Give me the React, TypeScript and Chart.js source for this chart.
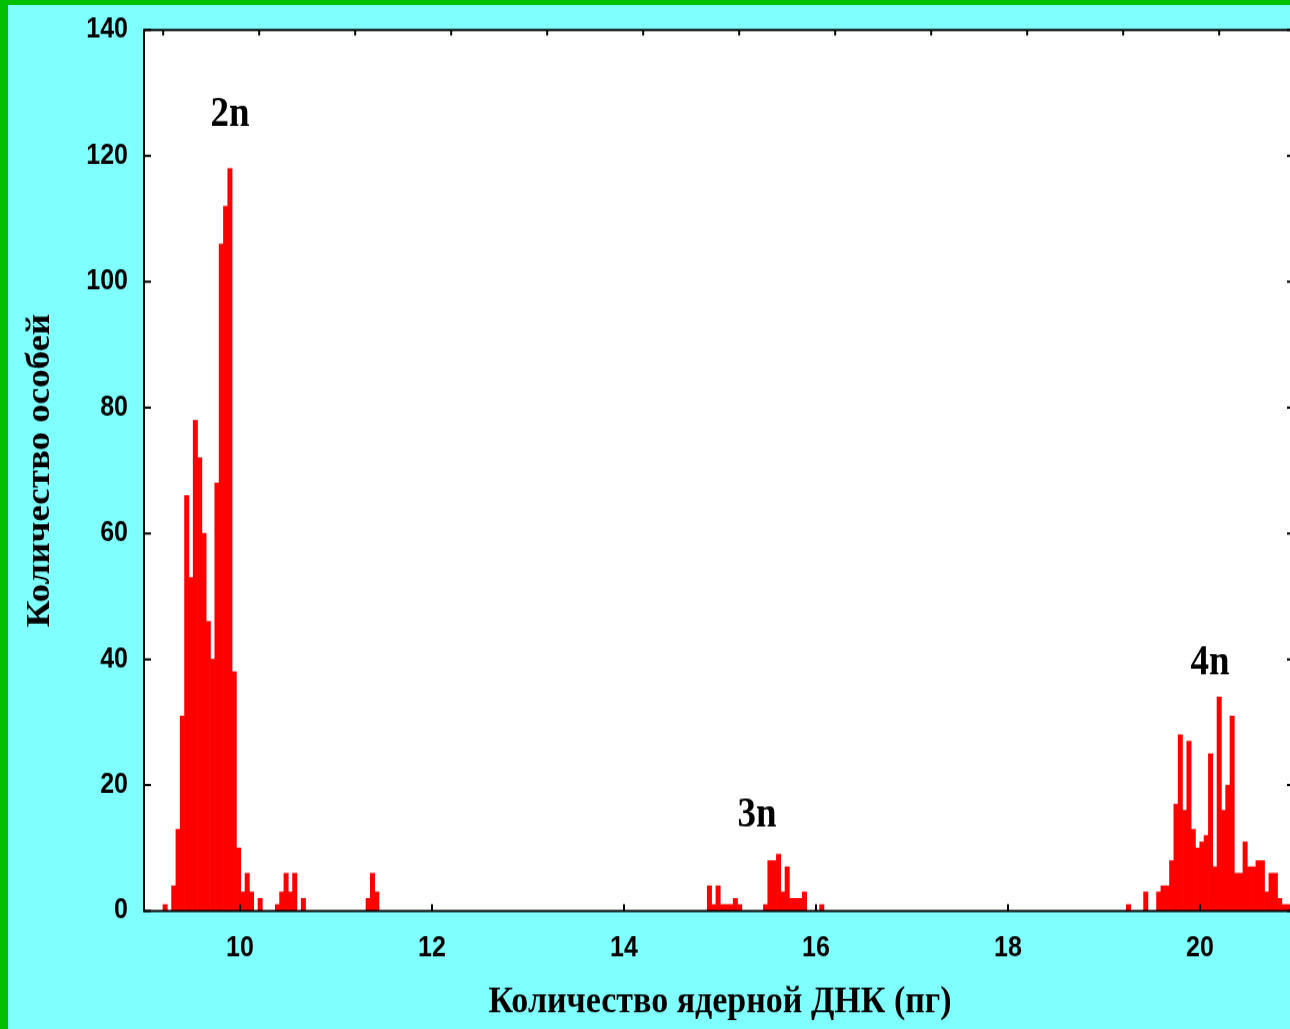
import React, { useEffect, useRef } from 'react';
import { Chart, registerables } from 'chart.js';

Chart.register(...registerables);

// ---- data (histogram of nuclear DNA content) ----
const BIN_START = 9.04; // centre of first bin (pg)
const BIN_WIDTH = 0.045; // pg
const BIN_COUNT = 266;

const peak2nFirstBin = 4;
const peak2nCounts = [1, 0, 4, 13, 31, 66, 53, 78, 72, 60, 46, 40, 68, 106, 112, 118, 38, 10, 3, 6, 3, 0, 2];

const minorAFirstBin = 30;
const minorACounts = [1, 3, 6, 3, 6, 0, 2];

const minorBFirstBin = 51;
const minorBCounts = [2, 6, 3];

const peak3nFirstBin = 130;
const peak3nCounts = [4, 1, 4, 1, 1, 1, 2, 1, 0, 0, 0, 0, 0, 1, 8, 8, 9, 3, 7, 2, 2, 2, 3, 0, 0, 0, 1];

const peak4nFirstBin = 227;
const peak4nCounts = [
  1, 0, 0, 0, 3, 0, 0, 3, 4, 4, 8, 17, 28, 16, 27, 13, 10, 11, 12, 25, 7, 34, 16, 20, 31, 6, 6, 11, 7, 7, 8,
  8, 3, 6, 6, 2, 1, 1,
];

const xMin = 9;
const xMax = 21;
const yMin = 0;
const yMax = 140;
const yStep = 20;
const xTickValues = [10, 12, 14, 16, 18, 20];
const topTickValues = [9.2, 10.2, 11.2, 12.2, 13.2, 14.2, 15.2, 16.2, 17.2, 18.2, 19.2, 20.2];

const peakLabels = ['2n', '3n', '4n'];
const peakLabelX = [9.896, 15.385, 20.104];
const peakLabelY = [126.4, 15.1, 39.4];

const xAxisTitle = 'Количество ядерной ДНК (пг)';
const yAxisTitle = 'Количество особей';

// ---- layout ----
const CANVAS_W = 1338;
const CSS_H = 1024;
const BUF_H = 915;
const S = CSS_H / BUF_H;
const AREA_TOP = 25 / S;
const AREA_BOTTOM = 906 / S;
const AREA_RIGHT = 1288;
const AREA_LEFT = 136;

const SANS = '"Liberation Sans", Arial, sans-serif';
const SERIF = '"Liberation Serif", "Times New Roman", serif';

const framePlugin = {
  id: 'frame',
  beforeDatasetsDraw(chart: any) {
    const { ctx, chartArea } = chart;
    const { left, top, right, bottom } = chartArea;
    ctx.save();
    ctx.fillStyle = '#ffffff';
    ctx.fillRect(left, top, right - left, bottom - top);
    ctx.restore();
  },
  afterDatasetsDraw(chart: any) {
    const { ctx, chartArea, scales } = chart;
    const { left, top, right, bottom } = chartArea;
    ctx.save();
    ctx.strokeStyle = '#000000';
    ctx.lineWidth = 2;
    ctx.strokeRect(left, top, right - left, bottom - top);
    ctx.beginPath();
    scales.y.ticks.forEach((t: any) => {
      const py = scales.y.getPixelForValue(t.value);
      ctx.moveTo(left, py);
      ctx.lineTo(left + 7, py);
      ctx.moveTo(right - 9, py);
      ctx.lineTo(right, py);
    });
    scales.x.ticks.forEach((t: any) => {
      const px = scales.x.getPixelForValue(t.value);
      ctx.moveTo(px, bottom);
      ctx.lineTo(px, bottom - 6);
    });
    topTickValues.forEach((v) => {
      const px = scales.x.getPixelForValue(v);
      ctx.moveTo(px, top);
      ctx.lineTo(px, top + 5);
    });
    ctx.stroke();

    ctx.fillStyle = '#000000';
    ctx.font = `bold 37px ${SERIF}`;
    ctx.textAlign = 'center';
    ctx.textBaseline = 'middle';
    peakLabels.forEach((lab, i) => {
      ctx.fillText(lab, scales.x.getPixelForValue(peakLabelX[i]), scales.y.getPixelForValue(peakLabelY[i]));
    });
    ctx.restore();
  },
};

export default function App() {
  const ref = useRef<HTMLCanvasElement>(null);

  useEffect(() => {
    const counts: number[] = new Array(BIN_COUNT).fill(0);
    const groups: [number, number[]][] = [
      [peak2nFirstBin, peak2nCounts],
      [minorAFirstBin, minorACounts],
      [minorBFirstBin, minorBCounts],
      [peak3nFirstBin, peak3nCounts],
      [peak4nFirstBin, peak4nCounts],
    ];
    groups.forEach(([first, arr]) => arr.forEach((c, i) => (counts[first + i] = c)));
    const data = counts.map((c, k) => ({ x: BIN_START + k * BIN_WIDTH, y: c }));

    const chart = new Chart(ref.current as HTMLCanvasElement, {
      type: 'bar',
      data: {
        datasets: [
          {
            data: data as any,
            backgroundColor: '#FF0000',
            borderWidth: 0,
            barPercentage: 1,
            categoryPercentage: 1,
          },
        ],
      },
      options: {
        responsive: false,
        animation: false,
        devicePixelRatio: 1,
        layout: { padding: { top: AREA_TOP, right: CANVAS_W - AREA_RIGHT, left: 0, bottom: 0 } },
        plugins: { legend: { display: false }, tooltip: { enabled: false } },
        scales: {
          x: {
            type: 'linear',
            min: xMin,
            max: xMax,
            offset: false,
            grid: { display: false, offset: false },
            border: { display: false },
            afterBuildTicks: (s: any) => {
              s.ticks = xTickValues.map((v) => ({ value: v }));
            },
            afterFit: (s: any) => {
              s.height = BUF_H - AREA_BOTTOM;
              s.paddingLeft = 0;
              s.paddingRight = 0;
            },
            ticks: {
              color: '#000000',
              font: { family: SANS, size: 25, weight: 'bold' },
              padding: 11,
              maxRotation: 0,
              autoSkip: false,
            },
            title: {
              display: true,
              text: xAxisTitle,
              color: '#000000',
              font: { family: SERIF, size: 34, weight: 'bold' },
              padding: { top: 0, bottom: 3 },
            },
          },
          y: {
            min: yMin,
            max: yMax,
            grid: { display: false },
            border: { display: false },
            afterFit: (s: any) => {
              s.width = AREA_LEFT;
              s.paddingTop = 0;
              s.paddingBottom = 0;
            },
            ticks: {
              stepSize: yStep,
              color: '#000000',
              font: { family: SANS, size: 25, weight: 'bold' },
              padding: 8,
            },
            title: {
              display: true,
              text: yAxisTitle,
              color: '#000000',
              font: { family: SERIF, size: 33, weight: 'bold' },
              padding: { top: 13, bottom: 0 },
            },
          },
        },
      } as any,
      plugins: [framePlugin],
    });
    return () => chart.destroy();
  }, []);

  return (
    <div
      style={{
        position: 'fixed',
        left: 0,
        top: 0,
        width: 1290,
        height: 1029,
        overflow: 'hidden',
        background: '#00C000',
      }}
    >
      <div
        style={{
          position: 'absolute',
          left: 8,
          top: 5,
          width: 1400,
          height: 1100,
          background: '#80FFFF',
        }}
      >
        <canvas
          ref={ref}
          width={CANVAS_W}
          height={BUF_H}
          style={{ display: 'block', width: `${CANVAS_W}px`, height: `${CSS_H}px` }}
        />
      </div>
    </div>
  );
}
